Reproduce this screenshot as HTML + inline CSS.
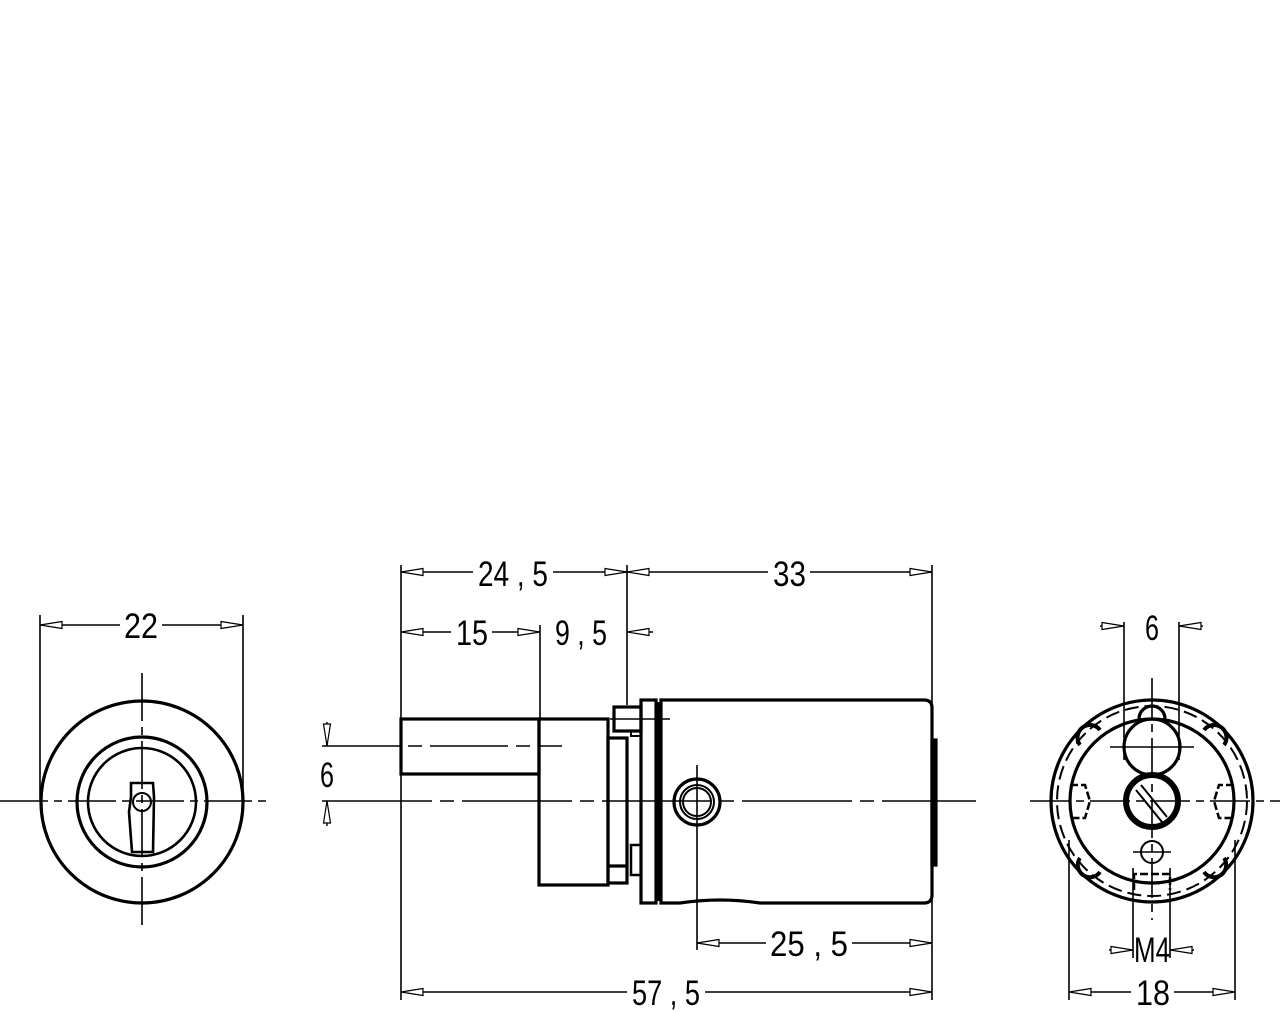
<!DOCTYPE html>
<html><head><meta charset="utf-8"><style>html,body{margin:0;padding:0;background:#fff}svg{display:block}</style></head>
<body>
<svg width="1280" height="1012" viewBox="0 0 1280 1012" xmlns="http://www.w3.org/2000/svg" font-family="Liberation Sans, sans-serif" font-size="35">
<defs>
<marker id="a" markerWidth="24" markerHeight="10" refX="0" refY="5" orient="auto" markerUnits="userSpaceOnUse">
<path d="M0,5 L22,1.5 L22,8.5 Z" fill="#fff" stroke="#000" stroke-width="1.2"/></marker>
</defs>
<g fill="none" stroke="#000">
<!-- LEFT VIEW -->
<g stroke-width="1.6">
<line x1="0" y1="801" x2="268" y2="801" stroke-dasharray="48,6,8,6"/>
<line x1="142" y1="673" x2="142" y2="928" stroke-dasharray="48,6,8,6"/>
<line x1="40" y1="615" x2="40" y2="800"/>
<line x1="243" y1="615" x2="243" y2="800"/>
</g>
<g stroke-width="3.2">
<circle cx="142" cy="802" r="101"/>
<circle cx="142" cy="802" r="65"/>
<circle cx="142" cy="802" r="54" stroke-width="2.6"/>
<path d="M131,783 L153,783 L154,797 L153,852 L132,852 L129,812 L131,797 Z" stroke-width="2.6"/>
<circle cx="142" cy="802" r="9" stroke-width="2"/>
</g>
<!-- MIDDLE VIEW -->
<g stroke-width="1.6">
<line x1="322" y1="801" x2="976" y2="801" stroke-dasharray="110,8,14,8"/>
<line x1="322" y1="746" x2="562" y2="746" stroke-dasharray="78,8,14,8"/>
<line x1="401" y1="565" x2="401" y2="1000"/>
<line x1="627" y1="565" x2="627" y2="705"/>
<line x1="540" y1="625" x2="540" y2="718"/>
<line x1="932" y1="565" x2="932" y2="1000"/>
<line x1="697" y1="765" x2="697" y2="950"/>
<line x1="610" y1="719" x2="670" y2="719"/>
</g>
<g stroke-width="3.2">
<rect x="401" y="719" width="138" height="55"/>
<rect x="539" y="719" width="69" height="166"/>
<rect x="608" y="738" width="19" height="145"/>
<line x1="608" y1="866" x2="627" y2="866"/>
<rect x="614" y="707" width="27" height="24"/>
<rect x="631" y="731" width="10" height="5" stroke-width="2"/>
<rect x="631" y="845" width="10" height="30" stroke-width="2.5"/>
<rect x="641" y="700" width="15" height="203"/>
<line x1="658" y1="702" x2="658" y2="901"/>
<path d="M661,700 L924,700 Q932,700 932,708 L932,895 Q932,903 924,903 L760,903 Q740,900 720,900 Q700,900 680,903 L661,903 Z"/>
<rect x="932" y="740" width="4" height="125" fill="#000"/>
<circle cx="697" cy="802" r="23"/>
<circle cx="697" cy="802" r="17" stroke-width="2"/>
<circle cx="697" cy="802" r="14" stroke-width="2"/>
</g>
<!-- RIGHT VIEW -->
<g stroke-width="1.6">
<line x1="1030" y1="801" x2="1280" y2="801" stroke-dasharray="40,6,8,6"/>
<line x1="1152" y1="678" x2="1152" y2="920" stroke-dasharray="40,6,8,6"/>
<line x1="1124" y1="622" x2="1124" y2="760"/>
<line x1="1179" y1="622" x2="1179" y2="760"/>
<line x1="1069" y1="840" x2="1069" y2="1000"/>
<line x1="1235" y1="840" x2="1235" y2="1000"/>
<line x1="1133" y1="868" x2="1133" y2="958"/>
<line x1="1170" y1="868" x2="1170" y2="958"/>
<line x1="1110" y1="747" x2="1194" y2="747"/>
<line x1="1133" y1="852" x2="1171" y2="852"/>
</g>
<g stroke-width="3.2">
<circle cx="1152" cy="801" r="101"/>
<circle cx="1152" cy="801" r="95" stroke-width="2" stroke-dasharray="14,6"/>
<circle cx="1152" cy="801" r="82"/>
<circle cx="1152" cy="747" r="28"/>
<path d="M1139,719 A13,13 0 0 1 1165,719"/>
<circle cx="1152" cy="801" r="26" stroke-width="6"/>
<line x1="1136" y1="790" x2="1162" y2="822" stroke-width="2"/>
<line x1="1141" y1="785" x2="1167" y2="817" stroke-width="2"/>
<circle cx="1152" cy="852" r="11" stroke-width="2"/>
<path d="M1134,890 L1134,874 L1170,874 L1170,890" stroke-width="2.5" stroke-dasharray="8,3"/>
<path d="M1070,785 L1085,785 L1090,801 L1085,818 L1070,818" stroke-width="2.5" stroke-dasharray="8,3"/>
<path d="M1234,785 L1219,785 L1214,801 L1219,818 L1234,818" stroke-width="2.5" stroke-dasharray="8,3"/>
<path d="M1080,745 A12,12 0 0 1 1100,730" stroke-width="4"/>
<path d="M1224,745 A12,12 0 0 0 1204,730" stroke-width="4"/>
<path d="M1080,858 A12,12 0 0 0 1100,872" stroke-width="4"/>
<path d="M1224,858 A12,12 0 0 1 1204,872" stroke-width="4"/>
</g>
<!-- DIMENSIONS -->
<g stroke-width="1.4">
<line x1="40" y1="625" x2="120" y2="625" marker-start="url(#a)"/>
<line x1="243" y1="625" x2="162" y2="625" marker-start="url(#a)"/>
<line x1="401" y1="572" x2="473" y2="572" marker-start="url(#a)"/>
<line x1="627" y1="572" x2="553" y2="572" marker-start="url(#a)"/>
<line x1="627" y1="572" x2="768" y2="572" marker-start="url(#a)"/>
<line x1="932" y1="572" x2="810" y2="572" marker-start="url(#a)"/>
<line x1="401" y1="632" x2="451" y2="632" marker-start="url(#a)"/>
<line x1="540" y1="632" x2="492" y2="632" marker-start="url(#a)"/>
<line x1="627" y1="632" x2="653" y2="632" marker-start="url(#a)"/>
<line x1="327" y1="746" x2="327" y2="722" marker-start="url(#a)"/>
<line x1="327" y1="801" x2="327" y2="826" marker-start="url(#a)"/>
<line x1="697" y1="943" x2="766" y2="943" marker-start="url(#a)"/>
<line x1="932" y1="943" x2="852" y2="943" marker-start="url(#a)"/>
<line x1="401" y1="992" x2="627" y2="992" marker-start="url(#a)"/>
<line x1="932" y1="992" x2="705" y2="992" marker-start="url(#a)"/>
<line x1="1124" y1="626" x2="1100" y2="626" marker-start="url(#a)"/>
<line x1="1179" y1="626" x2="1203" y2="626" marker-start="url(#a)"/>
<line x1="1133" y1="950" x2="1109" y2="950" marker-start="url(#a)"/>
<line x1="1170" y1="950" x2="1194" y2="950" marker-start="url(#a)"/>
<line x1="1069" y1="992" x2="1131" y2="992" marker-start="url(#a)"/>
<line x1="1235" y1="992" x2="1174" y2="992" marker-start="url(#a)"/>
</g>
</g>
<g fill="#000">
<text x="124" y="638" textLength="34" lengthAdjust="spacingAndGlyphs">22</text>
<text x="478" y="586" textLength="70" lengthAdjust="spacingAndGlyphs">24 , 5</text>
<text x="773" y="586" textLength="33" lengthAdjust="spacingAndGlyphs">33</text>
<text x="456" y="645" textLength="32" lengthAdjust="spacingAndGlyphs">15</text>
<text x="555" y="645" textLength="52" lengthAdjust="spacingAndGlyphs">9 , 5</text>
<text x="320" y="787" textLength="14" lengthAdjust="spacingAndGlyphs">6</text>
<text x="770" y="956" textLength="78" lengthAdjust="spacingAndGlyphs">25 , 5</text>
<text x="632" y="1005" textLength="68" lengthAdjust="spacingAndGlyphs">57 , 5</text>
<text x="1145" y="640" textLength="14" lengthAdjust="spacingAndGlyphs">6</text>
<text x="1134" y="962" textLength="36" lengthAdjust="spacingAndGlyphs">M4</text>
<text x="1136" y="1005" textLength="34" lengthAdjust="spacingAndGlyphs">18</text>
</g>
</svg>
</body></html>
